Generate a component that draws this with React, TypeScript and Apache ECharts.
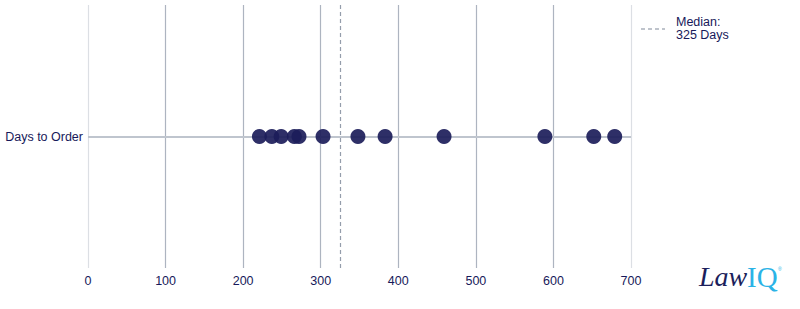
import React, { useEffect, useRef } from "react";
import * as echarts from "echarts";

const categories = ["Days to Order"];
const daysToOrder = [221, 237, 249, 266, 272, 303, 348, 383, 459, 589, 652, 679];
const medianDays = 325;
const xTicks = { min: 0, max: 700, interval: 100 };

const NAVY = "#17195a";
const FONT = "'Liberation Sans', Arial, sans-serif";

export default function App() {
  const ref = useRef<HTMLDivElement>(null);
  useEffect(() => {
    if (!ref.current) return;
    const chart = echarts.init(ref.current, undefined, { renderer: "svg" });
    chart.setOption({
      animation: false,
      textStyle: { fontFamily: FONT },
      grid: { left: 88, right: 169, top: 5, bottom: 41 },
      xAxis: {
        type: "value",
        min: xTicks.min,
        max: xTicks.max,
        interval: xTicks.interval,
        axisLine: { show: false },
        axisTick: { show: false },
        axisLabel: { color: NAVY, fontSize: 12.5, fontFamily: FONT, margin: 6 },
        splitLine: {
          show: true,
          showMinLine: true,
          showMaxLine: true,
          lineStyle: {
            color: ["#dcdfe4", "#adb4c0", "#adb4c0", "#adb4c0", "#adb4c0", "#adb4c0", "#adb4c0", "#dcdfe4"],
            width: 1.2,
          },
        },
      },
      yAxis: {
        type: "category",
        data: categories,
        axisLine: { show: false },
        axisTick: { show: false },
        splitLine: { show: false },
        axisLabel: { color: NAVY, fontSize: 12.5, fontFamily: FONT, margin: 5 },
      },
      series: [
        {
          type: "scatter",
          data: daysToOrder.map((d) => [d, categories[0]]),
          symbolSize: 15,
          itemStyle: { color: "#1c1d5a", opacity: 0.92 },
          markLine: {
            silent: true,
            symbol: "none",
            label: { show: false },
            z: 1,
            data: [
              { yAxis: categories[0], lineStyle: { color: "#bfc5ce", type: "solid", width: 2 } },
              { xAxis: medianDays, lineStyle: { color: "#949dab", type: [4, 3], width: 1.2 } },
            ],
          },
          z: 3,
        },
      ],
      graphic: [
        {
          type: "line",
          shape: { x1: 641, y1: 29, x2: 665, y2: 29 },
          style: { stroke: "#aab1bc", lineWidth: 1.5, lineDash: [4, 3] },
        },
        {
          type: "text",
          x: 676,
          y: 15,
          style: { text: "Median:\n325 Days", fill: NAVY, font: `12.5px ${FONT}`, lineHeight: 13.5 },
        },
        {
          type: "text",
          x: 699,
          y: 262,
          style: { text: "Law", fill: "#1c1f5c", font: `italic 28px 'Liberation Serif', 'DejaVu Serif', serif` },
        },
        {
          type: "text",
          x: 747,
          y: 262,
          style: { text: "IQ", fill: "#2bb3e6", font: `29px 'Liberation Serif', 'DejaVu Serif', serif` },
        },
        {
          type: "text",
          x: 778,
          y: 266,
          style: { text: "®", fill: "#2bb3e6", font: `5px ${FONT}` },
        },
      ],
    });
    return () => chart.dispose();
  }, []);
  return <div ref={ref} style={{ width: 800, height: 309, position: "absolute", left: 0, top: 0 }} />;
}
